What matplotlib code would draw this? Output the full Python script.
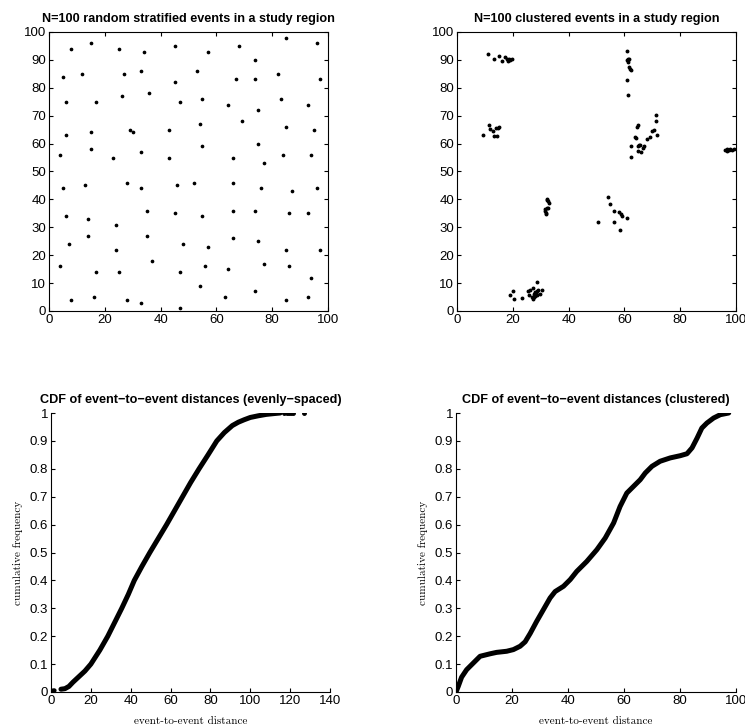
import numpy as np
import matplotlib
matplotlib.use('Agg')
import matplotlib.pyplot as plt
from matplotlib import rcParams

rcParams['font.family'] = 'Liberation Sans'
rcParams['font.size'] = 9.5
rcParams['axes.linewidth'] = 0.8

# stratified events
strat_x = [8, 15, 25, 34, 45, 57, 68, 74, 85, 96,
           5, 12, 27, 33, 45, 53, 67, 74, 82, 97,
           6, 17, 26, 36, 47, 55, 64, 75, 83, 93,
           69, 6, 15, 29, 30, 43, 54, 75, 85, 95,
           4, 15, 23, 33, 43, 55, 66, 77, 84, 94,
           5, 13, 28, 33, 46, 52, 66, 76, 87, 96,
           6, 14, 35, 45, 55, 66, 74, 86, 93, 24,
           7, 14, 24, 35, 48, 57, 66, 75, 85, 97,
           4, 17, 25, 37, 47, 56, 64, 77, 86, 94,
           8, 16, 28, 33, 47, 54, 63, 74, 85, 93]
strat_y = [94, 96, 94, 93, 95, 93, 95, 90, 98, 96,
           84, 85, 85, 86, 82, 86, 83, 83, 85, 83,
           75, 75, 77, 78, 75, 76, 74, 72, 76, 74,
           68, 63, 64, 65, 64, 65, 67, 60, 66, 65,
           56, 58, 55, 57, 55, 59, 55, 53, 56, 56,
           44, 45, 46, 44, 45, 46, 46, 44, 43, 44,
           34, 33, 36, 35, 34, 36, 36, 35, 35, 31,
           24, 27, 22, 27, 24, 23, 26, 25, 22, 22,
           16, 14, 14, 18, 14, 16, 15, 17, 16, 12,
           4, 5, 4, 3, 1, 9, 5, 7, 4, 5]

# clustered events
clus_x = [11.1, 13.3, 14.9, 16.0, 17.1, 18.1, 18.3, 18.7, 19.6, 18.9,
          9.3, 11.5, 11.9, 12.9, 13.2, 13.9, 14.2, 14.6, 14.9,
          32.1, 32.6, 32.8, 31.6, 32.1, 31.7, 31.9, 32.0, 32.6, 32.3,
          50.7, 54.0, 54.9, 56.4, 56.4, 58.1, 58.8, 59.2, 58.4, 61.1,
          18.9, 20.1, 20.6, 23.2, 25.4, 25.9, 26.2, 26.8, 27.1, 27.2, 27.5,
          27.8, 28.0, 28.3, 28.5, 28.6, 28.7, 29.0, 29.8, 30.3, 27.5, 28.2, 27.9,
          61.0, 61.0, 61.2, 61.4, 61.6, 61.7, 62.0, 62.2, 60.8, 61.2, 61.3,
          71.3, 71.4, 71.7, 70.5, 69.9, 69.1, 68.0, 67.1, 66.8, 66.1, 64.7,
          65.3, 65.0, 64.2, 63.7, 64.4, 64.7, 62.5, 62.2, 65.5,
          95.9, 96.8, 97.4, 98.0, 98.6, 99.2, 96.6]
clus_y = [92.1, 90.4, 91.3, 89.6, 91.0, 90.3, 89.7, 90.4, 90.3, 90.0,
          63.2, 66.5, 65.3, 64.4, 62.9, 65.5, 62.8, 65.6, 65.9,
          40.0, 39.4, 38.8, 36.4, 36.9, 35.8, 35.2, 34.6, 36.8, 39.8,
          32.0, 40.7, 38.2, 35.9, 31.9, 35.6, 34.7, 34.1, 28.9, 33.5,
          5.7, 7.1, 4.2, 4.7, 7.3, 5.7, 7.4, 5.1, 8.4, 4.2, 6.2,
          6.9, 5.5, 6.5, 10.4, 7.3, 5.7, 7.4, 6.1, 7.7, 5.1, 6.0, 6.6,
          93.1, 89.8, 90.5, 89.3, 90.2, 87.3, 86.7, 86.3, 82.8, 77.5, 90.0,
          70.3, 68.1, 63.1, 64.7, 64.4, 62.5, 61.6, 59.2, 58.6, 57.1, 57.5,
          59.6, 59.2, 61.9, 62.4, 65.9, 66.7, 59.0, 55.3, 59.4,
          57.8, 58.1, 57.6, 58.2, 57.8, 58.2, 57.5]

# CDF of distances, evenly spaced
even_d = [5, 7, 9, 11, 14, 17, 20, 24.5, 28.5, 32, 35.5, 38.8, 41.8, 45.6,
          49.6, 53.8, 58, 62, 66, 70, 74.3, 78.8, 83.2, 87, 91, 94, 97, 100,
          104, 108, 112, 115]
even_f = [0.01, 0.012, 0.02, 0.035, 0.055, 0.075, 0.1, 0.15, 0.2, 0.25, 0.3,
          0.35, 0.4, 0.45, 0.5, 0.55, 0.6, 0.65, 0.7, 0.75, 0.8, 0.85, 0.9,
          0.93, 0.955, 0.967, 0.976, 0.984, 0.99, 0.995, 0.998, 1.0]
even_head_d = [0, 0.8, 1.6]
even_head_f = [0.008, 0.008, 0.008]
even_tail_d = [117, 118.5, 119.5, 120.5, 121.5, 127]
even_tail_f = [1.0, 1.0, 1.0, 1.0, 1.0, 1.0]

# CDF of distances, clustered
clus_d = [0, 0.8, 2, 3.8, 6.2, 8.6, 12.2, 14.5, 18.1, 20.5, 22.9, 24.7, 26.5,
          28.8, 31.2, 33.6, 35.4, 38.4, 40.8, 43.1, 46.7, 50.3, 53.3, 56.3,
          58.6, 61, 63.4, 65.8, 67.6, 70, 72.9, 76.5, 80.1, 82.5, 84.3, 86.1,
          87.8, 89.6, 92, 94.4, 97.4]
clus_f = [0, 0.02, 0.053, 0.08, 0.104, 0.128, 0.137, 0.142, 0.146, 0.152,
          0.164, 0.18, 0.21, 0.253, 0.295, 0.337, 0.36, 0.379, 0.403, 0.432,
          0.468, 0.51, 0.552, 0.606, 0.665, 0.713, 0.737, 0.761, 0.785, 0.809,
          0.827, 0.839, 0.847, 0.854, 0.875, 0.91, 0.946, 0.964, 0.982, 0.994,
          1.0]

W, H = 745, 726
fig = plt.figure(figsize=(W / 100, H / 100), dpi=100)


def box(l, t, r, b):
    return [l / W, 1 - b / H, (r - l) / W, (b - t) / H]


title_kw = dict(fontsize=9.1, fontweight='bold', pad=7)
label_kw = dict(family='cmr10', fontsize=8)
cdf_ticks = ['0', '0.1', '0.2', '0.3', '0.4', '0.5', '0.6', '0.7', '0.8', '0.9', '1']

# top left
ax = fig.add_axes(box(49, 32, 328, 311))
ax.plot(strat_x, strat_y, '.', color='k', markersize=3.3)
ax.set_xlim(0, 100)
ax.set_ylim(0, 100)
ax.set_xticks(range(0, 101, 20))
ax.set_yticks(range(0, 101, 10))
ax.tick_params(direction='in', length=3, top=True, right=True, pad=2)
ax.set_title("N=100 random stratified events in a study region", **title_kw)

# top right
ax = fig.add_axes(box(457, 32, 736, 311))
ax.plot(clus_x, clus_y, '.', color='k', markersize=3.6)
ax.set_xlim(0, 100)
ax.set_ylim(0, 100)
ax.set_xticks(range(0, 101, 20))
ax.set_yticks(range(0, 101, 10))
ax.tick_params(direction='in', length=3, top=True, right=True, pad=2)
ax.set_title("N=100 clustered events in a study region", **title_kw)

# bottom left
ax = fig.add_axes(box(51, 413, 330, 692))
ax.plot(even_d, even_f, '-', color='k', lw=3.6, solid_capstyle='round')
ax.plot(even_head_d, even_head_f, '.', color='k', markersize=4)
ax.plot(even_tail_d, even_tail_f, '.', color='k', markersize=5)
ax.set_xlim(0, 140)
ax.set_ylim(0, 1)
ax.set_xticks(range(0, 141, 20))
ax.set_yticks(np.arange(0, 1.01, 0.1))
ax.set_yticklabels(cdf_ticks)
ax.spines['top'].set_visible(False)
ax.spines['right'].set_visible(False)
ax.tick_params(direction='in', length=3, pad=2)
ax.set_title("CDF of event\u2212to\u2212event distances (evenly\u2212spaced)", **title_kw)
ax.set_xlabel("event-to-event distance", labelpad=7, **label_kw)
ax.set_ylabel("cumulative frequency", labelpad=5, **label_kw)

# bottom right
ax = fig.add_axes(box(456, 413, 736, 692))
ax.plot(clus_d, clus_f, '-', color='k', lw=3.6, solid_capstyle='round')
ax.set_xlim(0, 100)
ax.set_ylim(0, 1)
ax.set_xticks(range(0, 101, 20))
ax.set_yticks(np.arange(0, 1.01, 0.1))
ax.set_yticklabels(cdf_ticks)
ax.spines['top'].set_visible(False)
ax.spines['right'].set_visible(False)
ax.tick_params(direction='in', length=3, pad=2)
ax.set_title("CDF of event\u2212to\u2212event distances (clustered)", **title_kw)
ax.set_xlabel("event-to-event distance", labelpad=7, **label_kw)
ax.set_ylabel("cumulative frequency", labelpad=5, **label_kw)

fig.savefig('out.png', dpi=100)
